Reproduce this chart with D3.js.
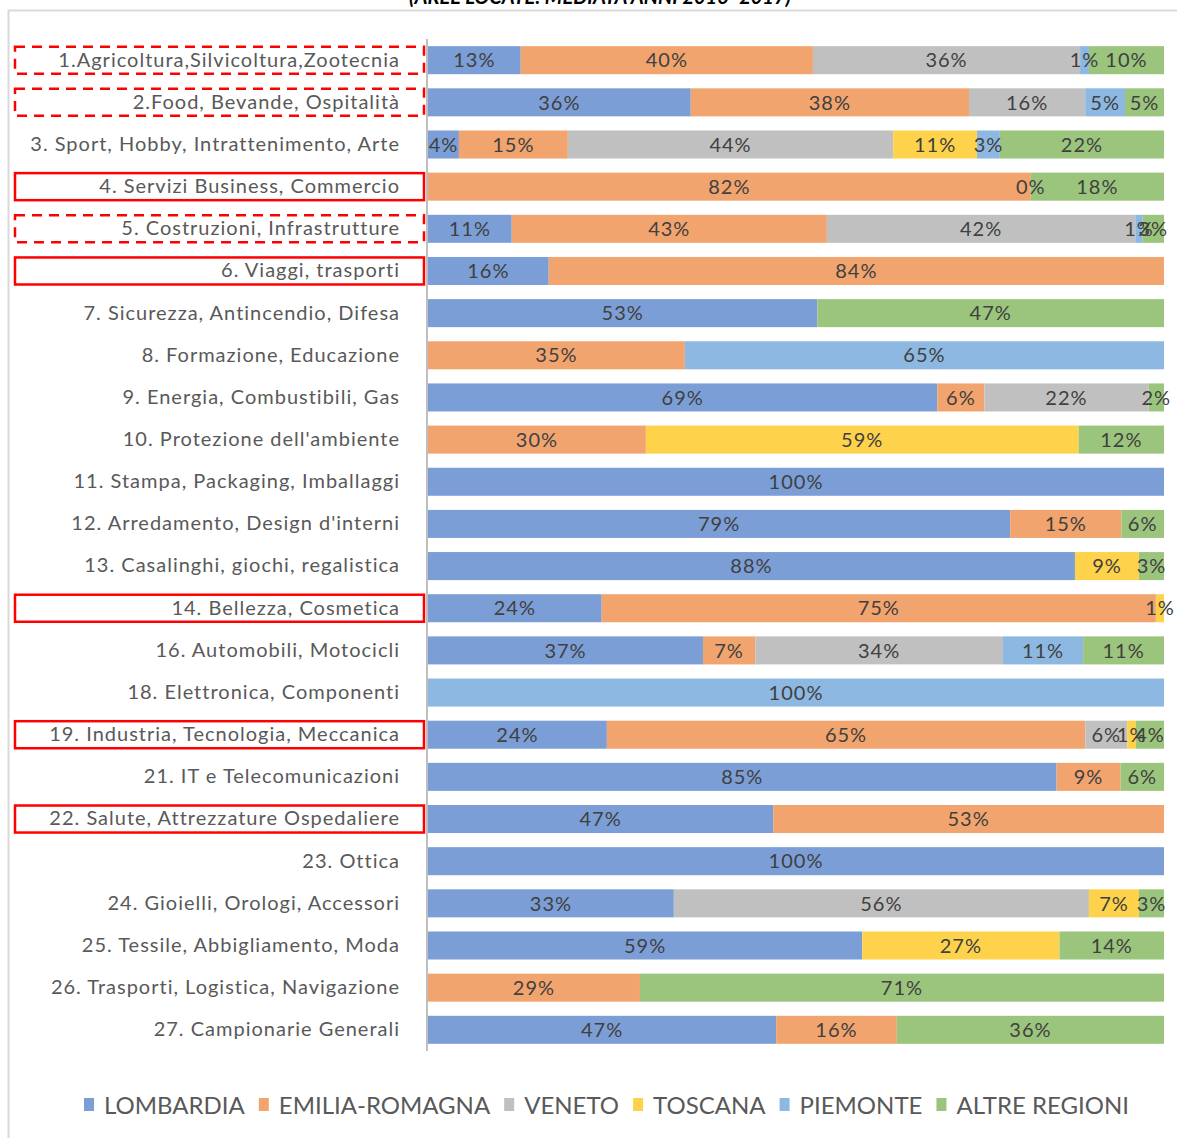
<!DOCTYPE html>
<html><head><meta charset="utf-8">
<script src="https://cdn.jsdelivr.net/npm/d3@7"></script>
<style>body{margin:0;background:#fff;} svg{display:block;}</style>
</head><body>
<svg id="chart" width="1177" height="1138"></svg>
<script>
const categories = [
 "1.Agricoltura,Silvicoltura,Zootecnia","2.Food, Bevande, Ospitalità","3. Sport, Hobby, Intrattenimento, Arte",
 "4. Servizi Business, Commercio","5. Costruzioni, Infrastrutture","6. Viaggi, trasporti",
 "7. Sicurezza, Antincendio, Difesa","8. Formazione, Educazione","9. Energia, Combustibili, Gas",
 "10. Protezione dell'ambiente","11. Stampa, Packaging, Imballaggi","12. Arredamento, Design d'interni",
 "13. Casalinghi, giochi, regalistica","14. Bellezza, Cosmetica","16. Automobili, Motocicli",
 "18. Elettronica, Componenti","19. Industria, Tecnologia, Meccanica","21. IT e Telecomunicazioni",
 "22. Salute, Attrezzature Ospedaliere","23. Ottica","24. Gioielli, Orologi, Accessori",
 "25. Tessile, Abbigliamento, Moda","26. Trasporti, Logistica, Navigazione","27. Campionarie Generali"];
const seriesNames = ["LOMBARDIA","EMILIA-ROMAGNA","VENETO","TOSCANA","PIEMONTE","ALTRE REGIONI"];
const seriesColors = ["#7c9ed6","#f2a46f","#c0c0c0","#ffd24c","#8db8e1","#9bc57c"];
// null = no value (no label); 0 = zero value shown as "0%"
const lombardia   = [12.6,35.7,4.2,null,11.4,16.4,52.9,null,69.2,null,100,79.1,87.9,23.6,37.4,null,24.3,85.4,46.9,100,33.4,59.0,null,47.3];
const emilia      = [39.7,37.8,14.8,81.9,42.9,83.6,null,34.9,6.4,29.6,null,15.1,null,75.3,7.1,null,65.0,8.7,53.1,null,null,null,28.8,16.4];
const veneto      = [36.3,15.8,44.2,0,42.0,null,null,null,22.3,null,null,null,null,null,33.7,null,5.7,null,null,null,56.4,null,null,null];
const toscana     = [null,null,11.4,null,null,null,null,null,null,58.8,null,null,8.7,1.1,null,null,1.2,null,null,null,6.8,26.8,null,null];
const piemonte    = [1.2,5.4,3.1,null,1.0,null,null,65.1,null,null,null,null,null,null,10.9,100,null,null,null,null,null,null,null,null];
const altre       = [10.2,5.3,22.3,18.1,2.9,null,47.1,null,2.1,11.6,null,5.8,3.4,null,11.0,null,3.8,5.9,null,null,3.4,14.2,71.2,36.3];
const seriesValues = [lombardia,emilia,veneto,toscana,piemonte,altre];
const solidBoxes = [3,5,13,16,18];
const dashedBoxes = [0,1,4];
const titleText = "(AREE LOCATE: MEDIATA ANNI 2016- 2017)";

const svg = d3.select("#chart");
const W = 1177, H = 1138;
const plotLeft = 428, plotRight = 1164, plotTop = 39, plotBottom = 1051;

// chart frame
svg.append("rect").attr("x",8.5).attr("y",10.5).attr("width",W).attr("height",H)
  .attr("fill","#fff").attr("stroke","#d9d9d9").attr("stroke-width",2);
svg.append("text").attr("x",600).attr("y",4).attr("text-anchor","middle")
  .attr("font-family","Lato, sans-serif").attr("font-style","italic").attr("font-weight","bold")
  .attr("font-size",20).attr("fill","#000").text(titleText);

const table = categories.map((c,i)=>{
  const row = {cat:c};
  seriesNames.forEach((s,j)=>{ const v = seriesValues[j][i]; row[s]=v==null?0:v; });
  return row;
});

const x = d3.scaleLinear().domain([0,1]).range([plotLeft,plotRight]);
const y = d3.scaleBand().domain(categories).range([plotTop,plotBottom]).paddingInner(0.335).paddingOuter(0.17);

const stack = d3.stack().keys(seriesNames).offset(d3.stackOffsetExpand);
const stacked = stack(table);

const font = "Lato, 'Open Sans', sans-serif";
stacked.forEach((layer,j)=>{
  svg.append("g").selectAll("rect").data(layer).join("rect")
    .attr("x",d=>x(d[0])).attr("width",d=>Math.max(0,x(d[1])-x(d[0])))
    .attr("y",d=>y(d.data.cat)).attr("height",y.bandwidth())
    .attr("fill",seriesColors[j]);
});
// labels
stacked.forEach((layer,j)=>{
  const vals = seriesValues[j];
  svg.append("g").selectAll("text").data(layer.filter(d=>vals[categories.indexOf(d.data.cat)]!=null)).join("text")
    .attr("x",d=>(x(d[0])+x(d[1]))/2).attr("y",d=>y(d.data.cat)+y.bandwidth()/2)
    .attr("dy","0.36em").attr("text-anchor","middle")
    .attr("font-family",font).attr("font-size",20).attr("letter-spacing",1).attr("fill","#404040")
    .text(d=>Math.round(vals[categories.indexOf(d.data.cat)])+"%");
});

// axis
const yAxis = d3.axisLeft(y).tickSize(0).tickPadding(27);
const ag = svg.append("g").attr("transform",`translate(${plotLeft-1},0)`).call(yAxis);
ag.select(".domain").attr("stroke","#bfbfbf").attr("stroke-width",2).attr("d",`M0,${plotTop}V${plotBottom}`);
ag.selectAll("text").attr("font-family",font).attr("font-size",20).attr("letter-spacing",1).attr("fill","#595959");

// red annotation boxes
const box = (i,dashed)=>{
  svg.append("rect").attr("x",15).attr("y",y(categories[i])+0.5).attr("width",409).attr("height",y.bandwidth()-1)
    .attr("fill","none").attr("stroke","#ff0000").attr("stroke-width",2.5)
    .attr("stroke-dasharray",dashed?"10,7":null);
};
solidBoxes.forEach(i=>box(i,false));
dashedBoxes.forEach(i=>box(i,true));

// legend
const lg = svg.append("g");
let lx = 0;
seriesNames.forEach((s,j)=>{
  const it = lg.append("g").attr("transform",`translate(${lx},0)`);
  it.append("rect").attr("x",0).attr("y",-7).attr("width",10).attr("height",13).attr("fill",seriesColors[j]);
  const t = it.append("text").attr("x",20).attr("y",0).attr("dy","0.36em")
    .attr("font-family",font).attr("font-size",24).attr("fill","#595959").text(s);
  lx += 20 + t.node().getComputedTextLength() + 14;
});
const lw = lx - 14;
lg.attr("transform",`translate(${(82+1131)/2 - lw/2},1105)`);
</script>
</body></html>
